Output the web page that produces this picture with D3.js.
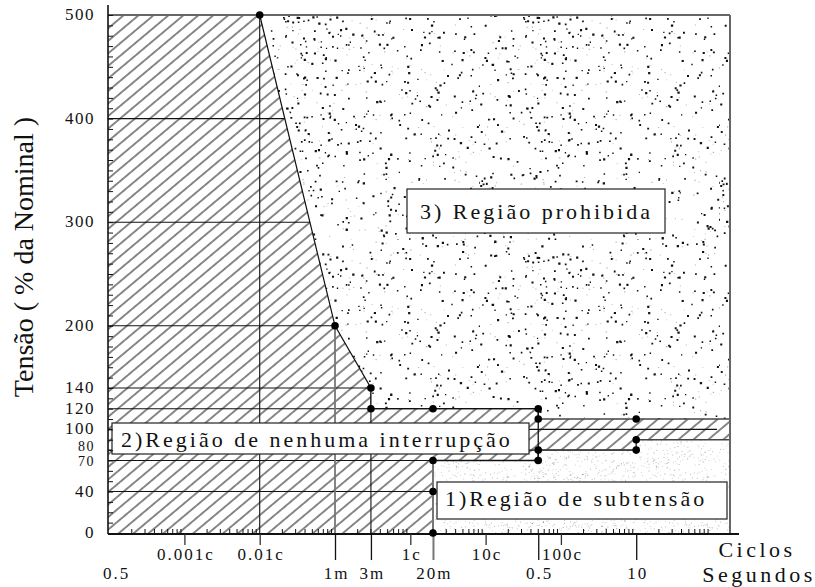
<!DOCTYPE html>
<html><head><meta charset="utf-8">
<script src="https://cdn.jsdelivr.net/npm/d3@7"></script>
<style>
body{margin:0;background:#fff}
text{font-family:"Liberation Serif","Times New Roman",serif;fill:#111}
</style></head><body>
<svg id="chart" width="815" height="587"></svg>
<script>
// ---------- data ----------
const voltageTicks = [0, 40, 70, 80, 100, 120, 140, 200, 300, 400, 500];
const voltageGrid = [40, 70, 80, 100, 120, 140, 200, 300, 400];
const cycleTickValues = [0.001, 0.01, 1, 10, 100];
const cycleTickLabels = ["0.001c", "0.01c", "1c", "10c", "100c"];
const secondTickValues = [1.2e-6, 0.001, 0.003, 0.02, 0.5, 10];
const secondTickLabels = ["0.5", "1m", "3m", "20m", "0.5", "10"];
const verticalGridTimes = [1e-4, 0.001, 0.003];
const SECONDS_PER_CYCLE = 0.01;
const T_MIN = 9.67e-7, T_MAX = 176;
// upper limit (prohibited region border)
const upperTime = [1e-4, 0.001, 0.003, 0.003, 0.5, 0.5, T_MAX];
const upperVolt = [500, 200, 140, 120, 120, 110, 110];
// lower limit (undervoltage region border)
const lowerTime = [T_MAX, 10, 10, 0.5, 0.5, 0.02, 0.02];
const lowerVolt = [90, 90, 80, 80, 70, 70, 0];
// marked points
const markTime = [1e-4, 0.001, 0.003, 0.003, 0.02, 0.5, 0.5, 10, 10, 10, 0.5, 0.5, 0.02, 0.02, 0.02];
const markVolt = [500, 200, 140, 120, 120, 120, 110, 110, 90, 80, 80, 70, 70, 40, 0];

// ---------- layout ----------
const svg = d3.select("#chart");
const L = 108, R = 730, TOP = 15, BOT = 533;
const x = d3.scaleLog().domain([T_MIN, T_MAX]).range([L, R]);
const y = d3.scaleLinear().domain([0, 500]).range([BOT, TOP]);
const xc = c => x(c * SECONDS_PER_CYCLE);

const defs = svg.append("defs");
// hatch
const hp = defs.append("pattern").attr("id", "hatch").attr("patternUnits", "userSpaceOnUse")
  .attr("width", 10).attr("height", 9.6).attr("patternTransform", "rotate(-40)");
hp.append("rect").attr("width", 10).attr("height", 9.6).attr("fill", "#fff");
hp.append("line").attr("x1", 0).attr("x2", 10).attr("y1", 4.8).attr("y2", 4.8)
  .attr("stroke", "#111").attr("stroke-width", 1);

// stipple textures (decoration only, deterministic generator)
const rnd = d3.randomLcg(0.4242);
function speckPath(n, size, minS, maxS) {
  let p = "";
  for (let i = 0; i < n; i++) {
    const s = minS + rnd() * (maxS - minS);
    p += `M${(rnd() * size).toFixed(1)},${(rnd() * size).toFixed(1)}h${s.toFixed(1)}v${s.toFixed(1)}h${(-s).toFixed(1)}z`;
  }
  return p;
}
const SP = 240;
const sp = defs.append("pattern").attr("id", "stipple").attr("patternUnits", "userSpaceOnUse")
  .attr("width", SP).attr("height", SP);
sp.append("rect").attr("width", SP).attr("height", SP).attr("fill", "#fff");
sp.append("path").attr("d", speckPath(260, SP, 0.8, 1.2)).attr("fill", "#b0b0b0");
sp.append("path").attr("d", speckPath(560, SP, 1.3, 2.3)).attr("fill", "#111");

const FP = 200;
const fp = defs.append("pattern").attr("id", "fine").attr("patternUnits", "userSpaceOnUse")
  .attr("width", FP).attr("height", FP);
fp.append("rect").attr("width", FP).attr("height", FP).attr("fill", "#fff");
fp.append("path").attr("d", speckPath(1500, FP, 1, 1)).attr("fill", "#d4d4d4");
fp.append("path").attr("d", speckPath(900, FP, 1, 1)).attr("fill", "#bdbdbd");
fp.append("path").attr("d", speckPath(60, FP, 1, 1.2)).attr("fill", "#808080");

// hatched background
svg.append("rect").attr("x", L).attr("y", TOP).attr("width", R - L).attr("height", BOT - TOP)
  .attr("fill", "url(#hatch)");

// grid lines
svg.append("g").selectAll("line").data(voltageGrid).join("line")
  .attr("x1", L).attr("x2", d => d === 100 ? R - 13 : R)
  .attr("y1", d => y(d)).attr("y2", d => y(d))
  .attr("stroke", "#111").attr("stroke-width", 1.1);
svg.append("g").selectAll("line").data(verticalGridTimes).join("line")
  .attr("x1", d => x(d)).attr("x2", d => x(d))
  .attr("y1", y(500)).attr("y2", BOT)
  .attr("stroke", (d, i) => i === 1 ? "#777" : "#111").attr("stroke-width", (d, i) => i === 1 ? 1.8 : 1.1);

// regions
const pts = (ts, vs) => ts.map((t, i) => [x(t), y(vs[i])]);
const upperPts = pts(upperTime, upperVolt);
const prohib = [...upperPts, [x(T_MAX), y(500)]];
svg.append("polygon").attr("points", prohib.map(p => p.join(",")).join(" ")).attr("fill", "url(#stipple)");
const lowerPts = pts(lowerTime, lowerVolt);
const under = [...lowerPts, [x(T_MAX), y(0)]];
svg.append("polygon").attr("points", under.map(p => p.join(",")).join(" ")).attr("fill", "url(#fine)");

// borders
const line = d3.line();
svg.append("path").attr("d", line(upperPts.slice(0, 6))).attr("fill", "none")
  .attr("stroke", "#111").attr("stroke-width", 1.2);
svg.append("path").attr("d", line(upperPts.slice(5))).attr("fill", "none")
  .attr("stroke", "#444").attr("stroke-width", 1.6);
svg.append("path").attr("d", line(lowerPts.slice(0, 5))).attr("fill", "none")
  .attr("stroke", "#444").attr("stroke-width", 1.6);
svg.append("path").attr("d", line(lowerPts.slice(4, 6))).attr("fill", "none")
  .attr("stroke", "#111").attr("stroke-width", 1.3);
svg.append("path").attr("d", line(lowerPts.slice(5))).attr("fill", "none")
  .attr("stroke", "#777").attr("stroke-width", 2);
svg.append("line").attr("x1", x(0.5)).attr("x2", x(0.5)).attr("y1", y(120)).attr("y2", y(70))
  .attr("stroke", "#111").attr("stroke-width", 1.3);

// frame
svg.append("line").attr("x1", L).attr("x2", R).attr("y1", TOP).attr("y2", TOP).attr("stroke", "#666").attr("stroke-width", 2);
svg.append("line").attr("x1", R).attr("x2", R).attr("y1", TOP).attr("y2", BOT).attr("stroke", "#666").attr("stroke-width", 2);

// label boxes
function box(x0, y0, w, h, txt, tx, ty) {
  svg.append("rect").attr("x", x0).attr("y", y0).attr("width", w).attr("height", h)
    .attr("fill", "#fff").attr("stroke", "#222").attr("stroke-width", 1.2);
  svg.append("text").attr("x", tx).attr("y", ty).attr("font-size", 22)
    .style("letter-spacing", "3px").text(txt);
}
box(407, 189, 258, 44, "3) Região prohibida", 420, 219);
box(112, 423, 417, 31, "2)Região de nenhuma interrupção", 121, 447);
box(437, 482, 290, 37, "1)Região de subtensão", 445, 506);

// y axis
svg.append("line").attr("x1", L).attr("x2", L).attr("y1", 5).attr("y2", BOT + 1).attr("stroke", "#111").attr("stroke-width", 1.6);
const yAxis = d3.axisRight(y).tickValues(d3.range(0, 501, 10)).tickSize(5).tickFormat("");
const yg = svg.append("g").attr("transform", `translate(${L},0)`).call(yAxis);
yg.select(".domain").remove();
yg.selectAll(".tick line").attr("stroke", "#111").attr("stroke-width", 1);
svg.append("g").selectAll("text").data(voltageTicks).join("text")
  .attr("x", 95).attr("y", d => y(d) + (d === 80 ? 0.5 : d === 70 ? 5.5 : 5)).attr("text-anchor", "end")
  .attr("font-size", d => (d === 80 || d === 70) ? 14 : 17).style("letter-spacing", "1.5px").text(d => d);
svg.append("text").attr("transform", `translate(33,257) rotate(-90)`)
  .attr("text-anchor", "middle").attr("font-size", 28).text("Tensão ( % da Nominal )");

// x axis
svg.append("line").attr("x1", L).attr("x2", R + 9).attr("y1", BOT + 1).attr("y2", BOT + 1).attr("stroke", "#111").attr("stroke-width", 2);
const minor = [];
for (let e = -4; e <= 4; e++) for (let k = 2; k <= 9; k++) {
  const c = k * Math.pow(10, e);
  if (xc(c) > L + 2 && xc(c) < R - 2) minor.push(c);
}
svg.append("g").selectAll("line").data(minor).join("line")
  .attr("x1", d => xc(d)).attr("x2", d => xc(d)).attr("y1", BOT + 1).attr("y2", BOT - 4)
  .attr("stroke", "#111").attr("stroke-width", 1);
const cAxis = d3.axisBottom(d3.scaleLog().domain(x.domain().map(t => t / SECONDS_PER_CYCLE)).range(x.range()))
  .tickValues(cycleTickValues).tickSize(11).tickPadding(3)
  .tickFormat((d, i) => cycleTickLabels[i]);
const cg = svg.append("g").attr("transform", `translate(0,${BOT + 1})`).call(cAxis);
cg.select(".domain").remove();
cg.selectAll(".tick line").attr("stroke", "#333").attr("stroke-width", 1.3);
cg.selectAll(".tick text").attr("font-family", "Liberation Serif").attr("font-size", 17)
  .attr("fill", "#111").style("letter-spacing", "2px").attr("dx", 1);
const sAxis = d3.axisBottom(x).tickValues(secondTickValues).tickSize(26).tickPadding(9)
  .tickFormat((d, i) => secondTickLabels[i]);
const sg = svg.append("g").attr("transform", `translate(0,${BOT + 1})`).call(sAxis);
sg.select(".domain").remove();
sg.selectAll(".tick line").attr("stroke", (d, i) => i === 3 ? "#777" : "#111")
  .attr("stroke-width", (d, i) => i === 3 ? 2 : 1.3)
  .attr("display", (d, i) => i === 0 ? "none" : null);
sg.selectAll(".tick text").attr("font-family", "Liberation Serif").attr("font-size", 17)
  .attr("fill", "#111").style("letter-spacing", "2px").attr("dx", 1).attr("y", 33);

svg.append("text").attr("x", 757).attr("y", 557).attr("text-anchor", "middle").attr("font-size", 22)
  .style("letter-spacing", "3.5px").text("Ciclos");
svg.append("text").attr("x", 759).attr("y", 582).attr("text-anchor", "middle").attr("font-size", 22)
  .style("letter-spacing", "3.5px").text("Segundos");

// points
svg.append("g").selectAll("circle").data(markTime).join("circle")
  .attr("cx", d => x(d)).attr("cy", (d, i) => y(markVolt[i])).attr("r", 3.8).attr("fill", "#000");
</script></body></html>
